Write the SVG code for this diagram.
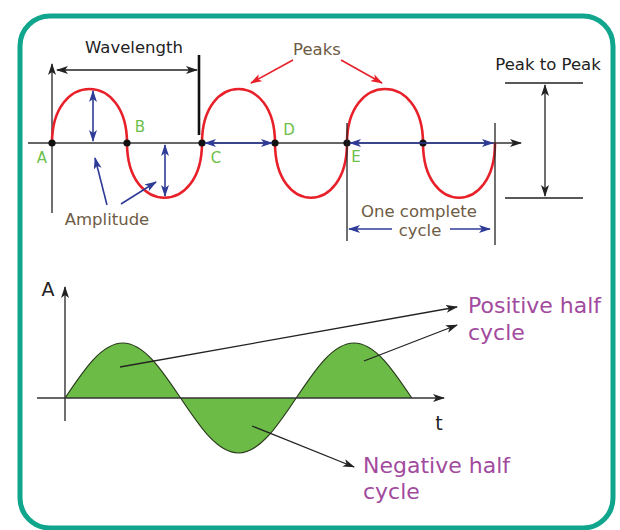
<svg xmlns="http://www.w3.org/2000/svg" width="620" height="530" viewBox="0 0 620 530">
<defs>
<style>
.lbl{font-family:"DejaVu Sans","Verdana",sans-serif;font-size:16.5px;fill:#6e5b45}
.blk{fill:#222}
.pt{font-family:"DejaVu Sans",sans-serif;font-size:15px;fill:#6dbf4b}
.pur{font-family:"DejaVu Sans",sans-serif;font-size:22px;fill:#a24a9e}
.ax{stroke:#333;stroke-width:1.4;fill:none}
.blue{stroke:#2e3b97;stroke-width:1.6;fill:none}
.thin{stroke:#222;stroke-width:1.3;fill:none}
.red{stroke:#e8202a;stroke-width:1.6;fill:none}
</style>
<marker id="ak" viewBox="0 0 12 8" refX="11" refY="4" markerWidth="12" markerHeight="8" markerUnits="userSpaceOnUse" orient="auto-start-reverse"><path d="M0,0 L12,4 L0,8 L3,4 Z" fill="#222"/></marker>
<marker id="ab" viewBox="0 0 12 8" refX="11" refY="4" markerWidth="12" markerHeight="8" markerUnits="userSpaceOnUse" orient="auto-start-reverse"><path d="M0,0 L12,4 L0,8 L3,4 Z" fill="#2e3b97"/></marker>
<marker id="ar" viewBox="0 0 12 8" refX="11" refY="4" markerWidth="12" markerHeight="8" markerUnits="userSpaceOnUse" orient="auto-start-reverse"><path d="M0,0 L12,4 L0,8 L3,4 Z" fill="#e8202a"/></marker>
</defs>
<rect x="20" y="16" width="593" height="512" rx="30" ry="30" fill="#fff" stroke="#10a58d" stroke-width="5"/>

<g id="top-wave">
<line class="ax" x1="28" y1="143" x2="521" y2="143" marker-end="url(#ak)"/>
<line class="ax" x1="52" y1="213" x2="52" y2="64" marker-end="url(#ak)"/>
<path d="M52,143 C52,71 127,71 127,143 C127,216 202,216 202,143 C202,71 275,71 275,143 C275,216 347,216 347,143 C347,71 423,71 423,143 C423,216 495,216 495,143" stroke="#e8202a" stroke-width="2.6" fill="none"/>
<g fill="#111">
<circle cx="52" cy="143" r="3.6"/><circle cx="127" cy="143" r="3.6"/><circle cx="202" cy="143" r="3.6"/><circle cx="275" cy="143" r="3.6"/><circle cx="347" cy="143" r="3.6"/><circle cx="423" cy="143" r="3.6"/>
</g>
</g>

<g id="bottom-wave">
<path d="M65,398 C84,369.5 101.9,343 122.8,343 C143.7,343 161.6,369.5 180.6,398 C199.6,426.5 217.5,453 238.4,453 C259.3,453 277.2,426.5 296.2,398 C315.2,369.5 333.1,343 354,343 C374.9,343 392.8,369.5 411.8,398 Z" fill="#6cbb46"/>
<path d="M65,398 C84,369.5 101.9,343 122.8,343 C143.7,343 161.6,369.5 180.6,398 C199.6,426.5 217.5,453 238.4,453 C259.3,453 277.2,426.5 296.2,398 C315.2,369.5 333.1,343 354,343 C374.9,343 392.8,369.5 411.8,398" stroke="#2a3a1e" stroke-width="1.2" fill="none"/>
<line class="ax" x1="37" y1="398" x2="444" y2="398" marker-end="url(#ak)"/>
<line class="ax" x1="65" y1="421" x2="65" y2="287" marker-end="url(#ak)"/>
<text x="48" y="296" text-anchor="middle" font-family="DejaVu Sans, sans-serif" font-size="19" fill="#222">A</text>
<text x="439" y="430" text-anchor="middle" font-family="DejaVu Sans, sans-serif" font-size="19" fill="#222">t</text>
</g>

<g id="point-labels">
<text class="pt" x="42" y="163" text-anchor="middle">A</text>
<text class="pt" x="140" y="132" text-anchor="middle">B</text>
<text class="pt" x="216" y="163" text-anchor="middle">C</text>
<text class="pt" x="289" y="135" text-anchor="middle">D</text>
<text class="pt" x="356" y="162" text-anchor="middle">E</text>
</g>

<g id="connectors">
<line class="thin" x1="57" y1="70" x2="197" y2="70" marker-start="url(#ak)" marker-end="url(#ak)"/>
<line x1="199" y1="55" x2="199" y2="135" stroke="#111" stroke-width="2.6"/>
<line class="blue" x1="93" y1="91" x2="93" y2="141" marker-start="url(#ab)" marker-end="url(#ab)"/>
<line class="blue" x1="165" y1="145" x2="165" y2="196" marker-start="url(#ab)" marker-end="url(#ab)"/>
<line class="blue" x1="205" y1="143" x2="272" y2="143" marker-start="url(#ab)" marker-end="url(#ab)"/>
<line class="blue" x1="350" y1="143" x2="493" y2="143" marker-start="url(#ab)" marker-end="url(#ab)"/>
<line class="blue" x1="107" y1="205" x2="95" y2="158" marker-end="url(#ab)"/>
<line class="blue" x1="121" y1="204" x2="156" y2="182" marker-end="url(#ab)"/>
<line class="red" x1="293" y1="60" x2="251" y2="83" marker-end="url(#ar)"/>
<line class="red" x1="341" y1="60" x2="382" y2="83" marker-end="url(#ar)"/>
<line class="thin" x1="505" y1="83" x2="583" y2="83"/>
<line class="thin" x1="505" y1="198" x2="583" y2="198"/>
<line class="thin" x1="545" y1="85" x2="545" y2="196" marker-start="url(#ak)" marker-end="url(#ak)"/>
<line class="thin" x1="347" y1="123" x2="347" y2="241"/>
<line class="thin" x1="495" y1="123" x2="495" y2="245"/>
<line class="blue" x1="392" y1="229" x2="349" y2="229" marker-end="url(#ab)"/>
<line class="blue" x1="450" y1="229" x2="490" y2="229" marker-end="url(#ab)"/>
<line class="thin" x1="120" y1="367" x2="457" y2="307" marker-end="url(#ak)"/>
<line class="thin" x1="364" y1="361" x2="457" y2="325" marker-end="url(#ak)"/>
<line class="thin" x1="252" y1="426" x2="354" y2="467" marker-end="url(#ak)"/>
</g>

<g id="top-labels">
<text class="lbl blk" x="134" y="53" text-anchor="middle">Wavelength</text>
<text class="lbl" x="317" y="55" text-anchor="middle">Peaks</text>
<text class="lbl blk" x="548" y="70" text-anchor="middle">Peak to Peak</text>
<text class="lbl" x="107" y="225" text-anchor="middle">Amplitude</text>
<text class="lbl" x="419" y="217" text-anchor="middle">One complete</text>
<text class="lbl" x="420" y="236" text-anchor="middle">cycle</text>
</g>

<g id="half-labels">
<text class="pur" x="468" y="313">Positive half</text>
<text class="pur" x="468" y="340">cycle</text>
<text class="pur" x="363" y="473">Negative half</text>
<text class="pur" x="363" y="499">cycle</text>
</g>
</svg>
